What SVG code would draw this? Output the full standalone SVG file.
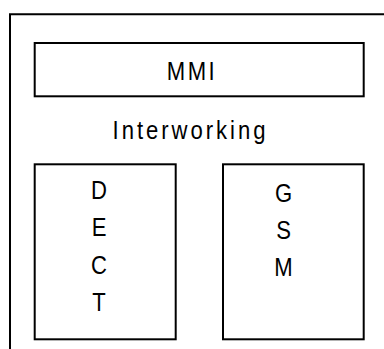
<svg xmlns="http://www.w3.org/2000/svg" width="384" height="349" viewBox="0 0 384 349">
  <style>
    .box { fill: #ffffff; stroke: #000000; stroke-width: 2; }
    .frame { fill: none; stroke: #000000; stroke-width: 2; }
    .lbl { font-family: "Liberation Sans", Arial, sans-serif; font-size: 26px; fill: #000000; text-anchor: middle; }
  </style>
  <rect width="384" height="349" fill="#ffffff"/>

  <!-- enclosing frame, open towards the right and bottom -->
  <g id="frame">
    <path class="frame" d="M10,349 V14.3 H384"/>
  </g>

  <g id="mmi">
    <rect class="box" x="34.7" y="43" width="329" height="53.3"/>
    <text class="lbl" transform="translate(192,80) scale(0.85,1)" letter-spacing="3">MMI</text>
  </g>

  <g id="interworking">
    <text class="lbl" transform="translate(190.5,139) scale(0.85,1)" letter-spacing="3.5">Interworking</text>
  </g>

  <g id="dect">
    <rect class="box" x="34.7" y="164.3" width="141" height="175"/>
    <text class="lbl" transform="translate(99,199) scale(0.85,1)">D</text>
    <text class="lbl" transform="translate(99,236.3) scale(0.85,1)">E</text>
    <text class="lbl" transform="translate(99,273.6) scale(0.85,1)">C</text>
    <text class="lbl" transform="translate(99,311) scale(0.85,1)">T</text>
  </g>

  <g id="gsm">
    <rect class="box" x="223" y="164.3" width="140.7" height="175"/>
    <text class="lbl" transform="translate(283.5,202) scale(0.85,1)">G</text>
    <text class="lbl" transform="translate(283.5,239) scale(0.85,1)">S</text>
    <text class="lbl" transform="translate(283.5,276) scale(0.85,1)">M</text>
  </g>

  <g id="connectors"></g>
</svg>
